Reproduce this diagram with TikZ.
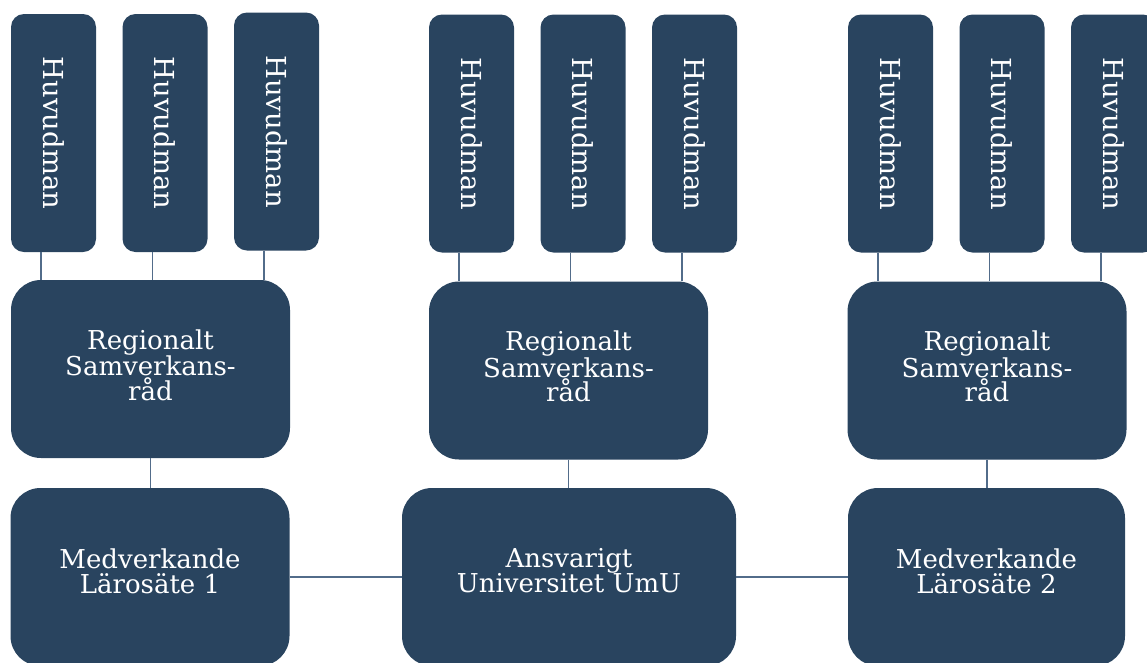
\documentclass[tikz,border=0pt]{standalone}
\usepackage{fontspec}
\setmainfont{DejaVu Serif}
\definecolor{boxfill}{HTML}{29445F}
\definecolor{linecol}{HTML}{526C8A}
\begin{document}
\begin{tikzpicture}[x=1pt,y=-1pt,
  hbox/.style={fill=boxfill,rounded corners=13pt,minimum width=85pt,minimum height=238pt,inner sep=0pt,text=white,font=\fontsize{27.5}{22}\selectfont},
  bigbox/.style={fill=boxfill,rounded corners=30pt,minimum width=279pt,minimum height=178pt,inner sep=0pt},
  txt/.style={text=white,align=center,font=\fontsize{26}{23}\selectfont,inner sep=0pt},
  conn/.style={draw=linecol,line width=1.4pt}]
\useasboundingbox (0,0) rectangle (1147,662);
\clip (0,0) rectangle (1147,662);
% Huvudman boxes
\node[hbox] (h11) at (53.5,133) {\rotatebox{-90}{Huvudman}};
\node[hbox] (h12) at (165,133) {\rotatebox{-90}{Huvudman}};
\node[hbox] (h13) at (276.5,131.5) {\rotatebox{-90}{Huvudman}};
\node[hbox] (h21) at (471.5,133.5) {\rotatebox{-90}{Huvudman}};
\node[hbox] (h22) at (583,133.5) {\rotatebox{-90}{Huvudman}};
\node[hbox] (h23) at (694.5,133.5) {\rotatebox{-90}{Huvudman}};
\node[hbox] (h31) at (890.5,133.5) {\rotatebox{-90}{Huvudman}};
\node[hbox] (h32) at (1002,133.5) {\rotatebox{-90}{Huvudman}};
\node[hbox] (h33) at (1113.5,133.5) {\rotatebox{-90}{Huvudman}};
% Regional boxes
\node[bigbox] (r1) at (150.5,369) {};
\node[bigbox] (r2) at (568.5,370.5) {};
\node[bigbox] (r3) at (987,370.5) {};
\node[txt] (tr1) at (150.5,365) {Regionalt\\Samverkans-\\råd};
\node[txt] (tr2) at (568.5,366.5) {Regionalt\\Samverkans-\\råd};
\node[txt] (tr3) at (987,366.5) {Regionalt\\Samverkans-\\råd};
% Bottom boxes
\node[bigbox] (m1) at (150,577) {};
\node[bigbox,minimum width=334pt] (a) at (569,577) {};
\node[bigbox,minimum width=277pt] (m2) at (986.5,577) {};
\node[txt,font=\fontsize{26}{25}\selectfont] (tm1) at (150,571) {Medverkande\\Lärosäte 1};
\node[txt,font=\fontsize{26}{25}\selectfont] (ta) at (569,571) {Ansvarigt\\Universitet UmU};
\node[txt,font=\fontsize{26}{25}\selectfont] (tm2) at (986.5,571) {Medverkande\\Lärosäte 2};
% connectors
\foreach \h/\r in {h11/r1,h12/r1,h13/r1,h21/r2,h22/r2,h23/r2,h31/r3,h32/r3,h33/r3}{
  \draw[conn] ([xshift=-12.5pt]\h.south) -- ([xshift=-12.5pt]\h.south |- \r.north);
}
\draw[conn] (r1.south) -- (r1.south |- m1.north);
\draw[conn] (r2.south) -- (r2.south |- a.north);
\draw[conn] (r3.south) -- (r3.south |- m2.north);
\draw[conn] (m1.east) -- (a.west);
\draw[conn] (a.east) -- (m2.west);
\end{tikzpicture}
\end{document}
